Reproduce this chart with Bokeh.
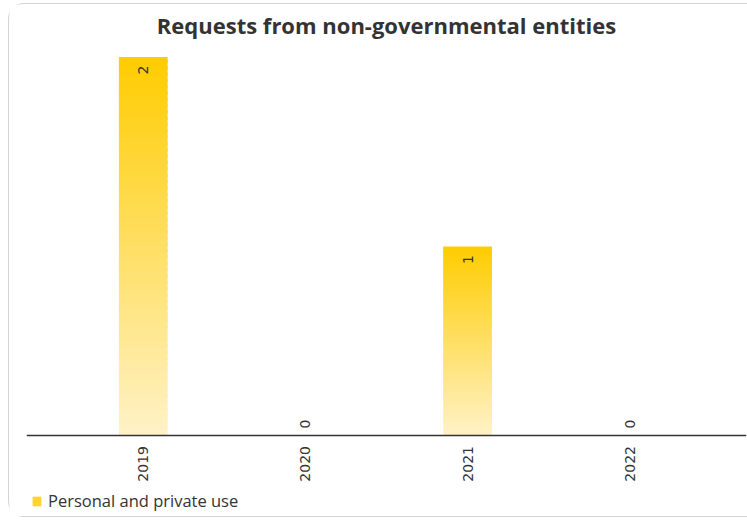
import math
from bokeh.plotting import figure
from bokeh.models import (ColumnDataSource, FactorRange, Range1d, Legend,
                          LegendItem)
from bokeh.core.properties import value
from bokeh.embed import file_html
from bokeh.resources import INLINE

# ---- data ----
years = ["2019", "2020", "2021", "2022"]
requests = [2, 0, 1, 0]
series_name = "Personal and private use"
chart_title = "Requests from non-governmental entities"

# ---- style ----
TOP_RGB = (255, 204, 0)
BOTTOM_RGB = (255, 242, 200)
N_SLICES = 60
PX_PER_UNIT = 189.5          # vertical scale of the reference
Y_MAX = 2.0607
Y_MIN = -0.4354              # room under the baseline for labels and legend


def mix(frac):
    r, g, b = (round(BOTTOM_RGB[i] + (TOP_RGB[i] - BOTTOM_RGB[i]) * frac) for i in range(3))
    return "#%02x%02x%02x" % (r, g, b)


p = figure(
    x_range=FactorRange(*years, range_padding=0.22, range_padding_units="absolute"),
    y_range=Range1d(Y_MIN, Y_MAX),
    width=17 + 720 + 10, height=514,
    output_backend="svg", toolbar_location=None,
    title=chart_title,
    min_border_left=17, min_border_right=10, min_border_top=41, min_border_bottom=0,
)
p.styles = {
    "margin-left": "8px",
    "margin-top": "3px",
    "border-left": "1.5px solid #d4d4d4",
    "border-top": "1.5px solid #d4d4d4",
    "border-bottom": "1.5px solid #d4d4d4",
    "border-right": "0px none transparent",
    "border-top-left-radius": "16px",
    "border-bottom-left-radius": "16px",
    "border-top-right-radius": "0px",
    "border-bottom-right-radius": "0px",
}

# gradient bars built from slices of each value (gold at top, pale at base)
xs, bots, tops, cols = [], [], [], []
for yr, v in zip(years, requests):
    for k in range(N_SLICES):
        xs.append(yr)
        bots.append(v * k / N_SLICES)
        tops.append(v * min(k + 1.6, N_SLICES) / N_SLICES)
        cols.append(mix((k + 0.5) / N_SLICES))
src = ColumnDataSource(dict(x=xs, bottom=bots, top=tops, color=cols))
p.vbar(x="x", bottom="bottom", top="top", width=0.3, source=src,
       fill_color="color", line_color=None)

# legend proxy renderer
leg_src = ColumnDataSource(dict(x=[years[0]], top=[0]))
r_leg = p.vbar(x="x", top="top", width=0.3, source=leg_src,
               fill_color="#ffd42e", line_color=None)

# value labels
lab_y = [v - 13 / PX_PER_UNIT if v > 0 else 12 / PX_PER_UNIT for v in requests]
lab_src = ColumnDataSource(dict(x=years, y=lab_y, t=[str(v) for v in requests]))
p.text(x="x", y="y", text="t", source=lab_src, angle=math.pi / 2,
       text_align="center", text_baseline="middle",
       text_font=value("DejaVu Sans"), text_font_size="14px", text_color="#333333")

# axes / grid
p.yaxis.visible = False
p.xgrid.visible = False
p.ygrid.visible = False
p.outline_line_color = None
p.xaxis.fixed_location = 0
p.xaxis.major_tick_line_color = None
p.xaxis.minor_tick_line_color = None
p.xaxis.major_tick_out = 0
p.xaxis.major_tick_in = 0
p.xaxis.axis_line_color = "#333333"
p.xaxis.axis_line_width = 1.5
p.xaxis.major_label_orientation = math.pi / 2
p.xaxis.major_label_standoff = 10
p.xaxis.major_label_text_font = "DejaVu Sans"
p.xaxis.major_label_text_font_size = "14px"
p.xaxis.major_label_text_color = "#333333"

# title
p.title.text_font = "Open Sans"
p.title.text_font_style = "bold"
p.title.text_font_size = "22px"
p.title.text_color = "#333333"
p.title.align = "center"
p.title.vertical_align = "top"
p.title.standoff = 8

# legend (under the axis labels, inside the frame)
legend = Legend(items=[LegendItem(label=series_name, renderers=[r_leg])],
                location=(5, 6), orientation="horizontal",
                border_line_color=None, background_fill_alpha=0,
                glyph_width=11, glyph_height=12, label_standoff=6,
                label_text_font="Open Sans", label_text_font_size="16.5px",
                label_text_color="#333333", padding=0, margin=0, spacing=0)
p.add_layout(legend)

open("out.html", "w").write(file_html(p, INLINE))
